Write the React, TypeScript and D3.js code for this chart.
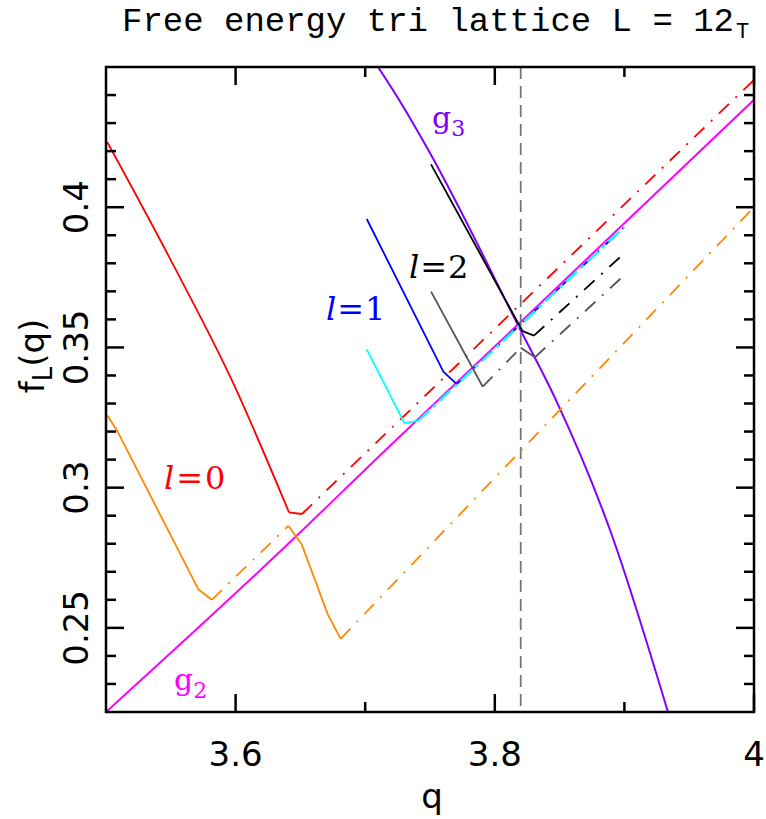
import React from "react";
import * as d3 from "d3";

type Pt = [number, number];

// ---- data (q, f_L(q)) ----
const g2Curve: Pt[] = [[3.5, 0.22], [3.6343, 0.2772], [3.7184, 0.3146], [3.82, 0.3591], [4.0, 0.4383]];
const g3Curve: Pt[] = [[3.7099, 0.45], [3.7269, 0.4377], [3.7487, 0.4204], [3.8194, 0.3566], [3.8465, 0.3319], [3.8889, 0.2849], [3.9336, 0.22]];

const l0RedSolid: Pt[] = [[3.501, 0.4232], [3.5507, 0.3805], [3.597, 0.3384], [3.6412, 0.2912]];
const l0RedCorner: Pt[] = [[3.6412, 0.2912], [3.6512, 0.2906]];
const l0RedDashDot: Pt[] = [[3.6512, 0.2906], [4.0, 0.4454]];

const l0OrangeSolidA: Pt[] = [[3.501, 0.3257], [3.5083, 0.3206], [3.5712, 0.2638], [3.5816, 0.26]];
const l0OrangeDashDotA: Pt[] = [[3.5816, 0.26], [3.6407, 0.2864]];
const l0OrangeSolidB: Pt[] = [[3.6407, 0.2864], [3.651, 0.2798], [3.6711, 0.2548], [3.6811, 0.2461]];
const l0OrangeDashDotB: Pt[] = [[3.6811, 0.2461], [4.0, 0.4]];

const l1BlueSolid: Pt[] = [[3.7012, 0.3958], [3.7603, 0.3414], [3.7706, 0.3369]];
const l1BlueDashDot: Pt[] = [[3.7706, 0.3369], [3.9, 0.393]];
const l1CyanSolid: Pt[] = [[3.7012, 0.3493], [3.7302, 0.323], [3.741, 0.3239]];
const l1CyanDashDot: Pt[] = [[3.741, 0.3239], [3.9, 0.393]];

const l2BlackSolid: Pt[] = [[3.7508, 0.4153], [3.8181, 0.3586], [3.8215, 0.3558], [3.8302, 0.3542]];
const l2BlackDashDot: Pt[] = [[3.8302, 0.3542], [3.9, 0.3836]];
const l2GraySolidA: Pt[] = [[3.7508, 0.3699], [3.7907, 0.336]];
const l2GrayDashDotA: Pt[] = [[3.7907, 0.336], [3.82, 0.3499]];
const l2GraySolidB: Pt[] = [[3.82, 0.3499], [3.831, 0.3465]];
const l2GrayDashDotB: Pt[] = [[3.831, 0.3465], [3.9, 0.3758]];

const qCritical = 3.82;

const xMajorTicks = [3.6, 3.8, 4.0];
const xMajorLabels = ["3.6", "3.8", "4"];
const xMinorTicks = [3.7, 3.9];
const yMajorTicks = [0.25, 0.3, 0.35, 0.4];
const yMajorLabels = ["0.25", "0.3", "0.35", "0.4"];
const yMinorTicks = [0.23, 0.24, 0.26, 0.27, 0.28, 0.29, 0.31, 0.32, 0.33, 0.34, 0.36, 0.37, 0.38, 0.39, 0.41, 0.42, 0.43, 0.44];

const W = 766, H = 819;
const L = 106, R = 754, T = 67, B = 712;

export default function App() {
  const x = d3.scaleLinear().domain([3.5, 4.0]).range([L, R]);
  const y = d3.scaleLinear().domain([0.22, 0.45]).range([B, T]);
  const line = d3.line<Pt>().x(d => x(d[0])).y(d => y(d[1]));
  const smooth = d3.line<Pt>().x(d => x(d[0])).y(d => y(d[1])).curve(d3.curveMonotoneX);
  const DD = "14,9,2,9";
  const tickFont = "'DejaVu Sans', sans-serif";
  const serif = "'DejaVu Serif', serif";

  const path = (data: Pt[], color: string, w: number, dash?: string, curved?: boolean) => (
    <path d={(curved ? smooth(data) : line(data)) || ""} fill="none" stroke={color} strokeWidth={w}
      strokeDasharray={dash} strokeLinejoin="round" />
  );

  return (
    <div style={{ position: "absolute", left: 0, top: 0 }}>
      <svg width={W} height={H} viewBox={`0 0 ${W} ${H}`} style={{ display: "block", background: "#fff" }}>
        <defs>
          <clipPath id="plot">
            <rect x={L} y={T} width={R - L} height={B - T} />
          </clipPath>
        </defs>

        {/* title */}
        <text x={122} y={31} fontFamily="'Liberation Mono', monospace" fontSize={33} fill="#000"
          textLength={612} lengthAdjust="spacingAndGlyphs">Free energy tri lattice L = 12</text>
        <text x={736} y={38} fontFamily="'Liberation Mono', monospace" fontSize={22} fill="#000">T</text>

        <g clipPath="url(#plot)">
          {path(g2Curve, "#ff00ff", 2, undefined, true)}
          {path(g3Curve, "#8000ff", 2, undefined, true)}
          <line x1={x(qCritical)} x2={x(qCritical)} y1={T} y2={B} stroke="#777777" strokeWidth={1.8} strokeDasharray="12,7" />

          {path(l0RedSolid, "#ff0000", 1.8, undefined, true)}
          {path(l0RedCorner, "#ff0000", 1.8)}
          {path(l0RedDashDot, "#ff0000", 1.8, DD)}
          {path(l0OrangeSolidA, "#ff8800", 1.8)}
          {path(l0OrangeDashDotA, "#ff8800", 1.8, DD)}
          {path(l0OrangeSolidB, "#ff8800", 1.8)}
          {path(l0OrangeDashDotB, "#ff8800", 1.8, DD)}

          {path(l1BlueSolid, "#0000ff", 1.8)}
          {path(l1BlueDashDot, "#0000ff", 1.8, DD)}
          {path(l1CyanSolid, "#00ffff", 1.8)}
          {path(l1CyanDashDot, "#00ffff", 2.4, "15,5,4,5")}

          {path(l2GraySolidA, "#555555", 1.8)}
          {path(l2GrayDashDotA, "#555555", 1.8, DD)}
          {path(l2GraySolidB, "#555555", 1.8)}
          {path(l2GrayDashDotB, "#555555", 1.8, DD)}
          {path(l2BlackSolid, "#000000", 1.8)}
          {path(l2BlackDashDot, "#000000", 1.8, DD)}
        </g>

        {/* frame */}
        <rect x={L} y={T} width={R - L} height={B - T} fill="none" stroke="#000" strokeWidth={2.5} />

        {/* x ticks */}
        {xMajorTicks.map(v => (
          <g key={"xm" + v}>
            <line x1={x(v)} x2={x(v)} y1={B} y2={B - 18} stroke="#000" strokeWidth={2.5} />
            <line x1={x(v)} x2={x(v)} y1={T} y2={T + 18} stroke="#000" strokeWidth={2.5} />
          </g>
        ))}
        {xMinorTicks.map(v => (
          <g key={"xn" + v}>
            <line x1={x(v)} x2={x(v)} y1={B} y2={B - 10} stroke="#000" strokeWidth={2.5} />
            <line x1={x(v)} x2={x(v)} y1={T} y2={T + 10} stroke="#000" strokeWidth={2.5} />
          </g>
        ))}
        {xMajorTicks.map((v, i) => (
          <text key={"xl" + v} x={x(v)} y={766} textAnchor="middle" fontFamily={tickFont} fontSize={34} fill="#000">{xMajorLabels[i]}</text>
        ))}

        {/* y ticks */}
        {yMajorTicks.map(v => (
          <g key={"ym" + v}>
            <line x1={L} x2={L + 18} y1={y(v)} y2={y(v)} stroke="#000" strokeWidth={2.5} />
            <line x1={R} x2={R - 18} y1={y(v)} y2={y(v)} stroke="#000" strokeWidth={2.5} />
          </g>
        ))}
        {yMinorTicks.map(v => (
          <g key={"yn" + v}>
            <line x1={L} x2={L + 10} y1={y(v)} y2={y(v)} stroke="#000" strokeWidth={2.5} />
            <line x1={R} x2={R - 10} y1={y(v)} y2={y(v)} stroke="#000" strokeWidth={2.5} />
          </g>
        ))}
        {yMajorTicks.map((v, i) => (
          <text key={"yl" + v} transform={`translate(88,${y(v)}) rotate(-90)`} textAnchor="middle"
            fontFamily={tickFont} fontSize={34} fill="#000">{yMajorLabels[i]}</text>
        ))}

        {/* axis titles */}
        <text x={432} y={808} textAnchor="middle" fontFamily={tickFont} fontSize={34} fill="#000">q</text>
        <text transform="translate(44,356) rotate(-90)" textAnchor="middle" fontFamily={tickFont} fontSize={34} fill="#000">
          f<tspan fontSize={26} dy={8}>L</tspan><tspan dy={-8}>(q)</tspan>
        </text>

        {/* in-plot labels */}
        <text x={164} y={489} fontFamily={serif} fontSize={32} letterSpacing={2} fill="#ff0000">
          <tspan fontStyle="italic">l</tspan>=0
        </text>
        <text x={326} y={320} fontFamily={serif} fontSize={32} letterSpacing={1} fill="#0000ff">
          <tspan fontStyle="italic">l</tspan>=1
        </text>
        <text x={409} y={278} fontFamily={serif} fontSize={32} letterSpacing={1} fill="#000000">
          <tspan fontStyle="italic">l</tspan>=2
        </text>
        <text x={432} y={128} fontFamily={serif} fontSize={30} fill="#8000ff">
          g<tspan fontSize={22} dy={8}>3</tspan>
        </text>
        <text x={174} y={690} fontFamily={serif} fontSize={30} fill="#ff00ff">
          g<tspan fontSize={22} dy={8}>2</tspan>
        </text>
      </svg>
    </div>
  );
}
